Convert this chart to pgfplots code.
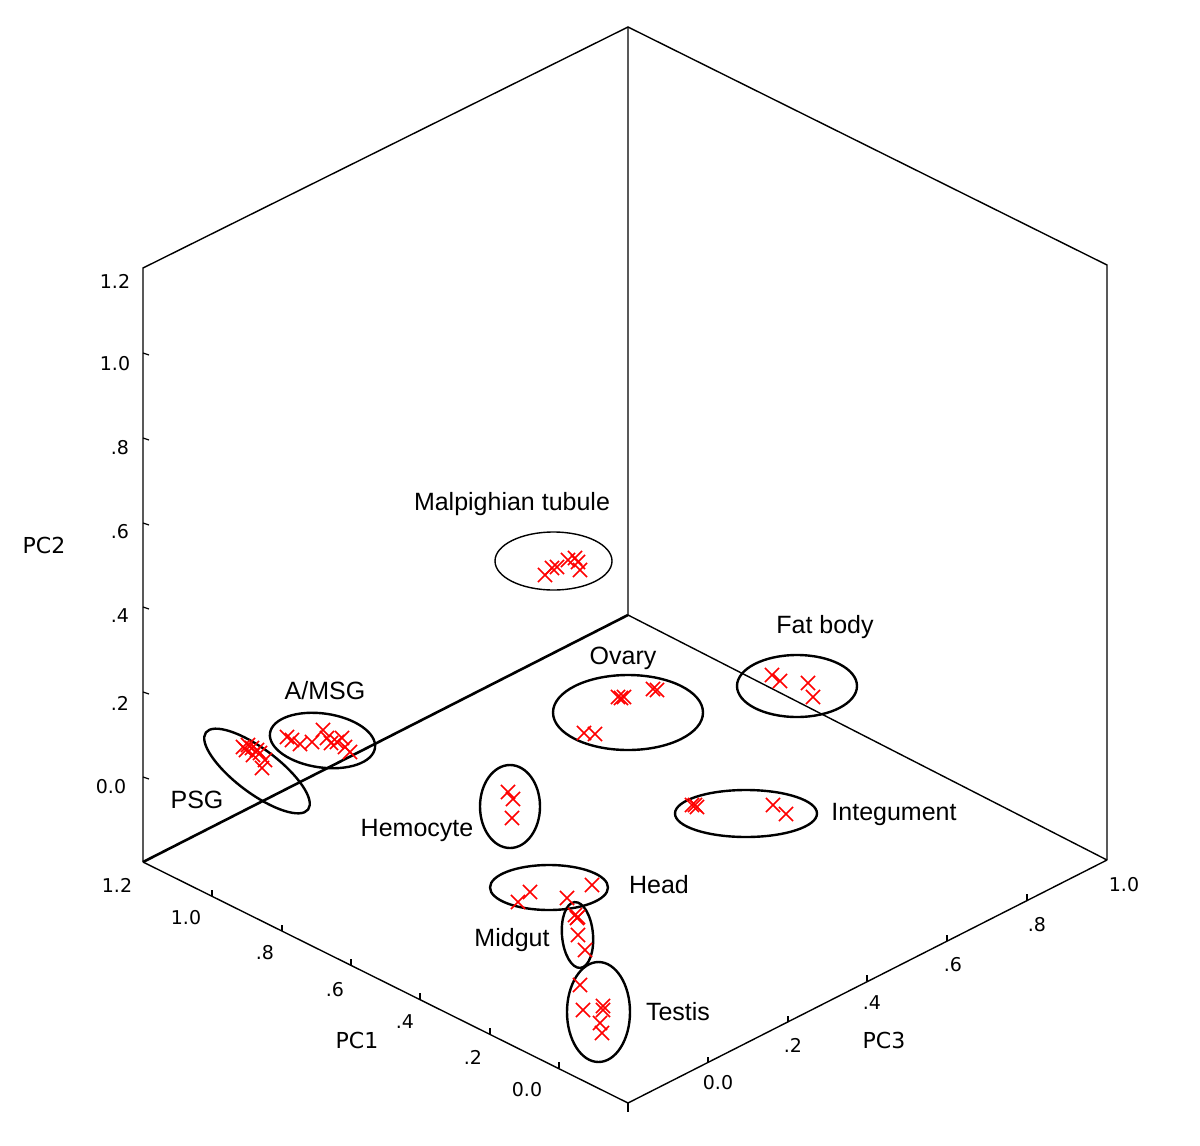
\documentclass[border=0pt]{standalone}
\usepackage{pgfplots}
\pgfplotsset{compat=1.18}
\usepackage{fontspec}
\setmainfont{Liberation Sans}
\newfontfamily\tickfont{DejaVu Sans}

% one axis unit = one pixel of the 1200x1146 reference
\newcommand{\grp}[1]{\fontsize{12.5}{15}\selectfont #1}
\newcommand{\tck}[1]{\tickfont\fontsize{9.5}{11}\selectfont #1}
\newcommand{\pcname}[1]{\tickfont\fontsize{11}{13}\selectfont #1}
\tikzset{ell/.style={black, line width=1.2pt}}
\pgfplotsset{pcx/.style={only marks, mark=x, mark size=5pt, color=red,
                mark options={line width=0.8pt}}}

\begin{document}
\begin{tikzpicture}
\begin{axis}[
    scale only axis,
    width=600pt, height=573pt,
    xmin=0, xmax=1200,
    ymin=0, ymax=1146,
    y dir=reverse,
    hide axis,
    clip=false,
]
\path (rel axis cs:0,0) rectangle (rel axis cs:1,1);

% box
\addplot[black, line width=0.7pt] coordinates {(143,862) (143,268) (628,27) (1107,265) (1107,860)};
\addplot[black, line width=0.7pt] coordinates {(628,27) (628,615) (1107,860)};
\addplot[black, line width=1.3pt] coordinates {(143,862) (628,615)};
\addplot[black, line width=0.7pt] coordinates {(143,862) (628,1103) (1107,860)};
\addplot[black, line width=0.7pt] coordinates {(628,1103) (628,1112)};

% PC2 ticks
\addplot[black, line width=0.6pt] coordinates {(143,353) (149,355)};
\addplot[black, line width=0.6pt] coordinates {(143,438) (149,440)};
\addplot[black, line width=0.6pt] coordinates {(143,523) (149,525)};
\addplot[black, line width=0.6pt] coordinates {(143,607) (149,609)};
\addplot[black, line width=0.6pt] coordinates {(143,692) (149,694)};
\addplot[black, line width=0.6pt] coordinates {(143,777) (149,779)};
% PC1 ticks
\addplot[black, line width=0.6pt] coordinates {(212,896) (212,890)};
\addplot[black, line width=0.6pt] coordinates {(282,931) (282,925)};
\addplot[black, line width=0.6pt] coordinates {(351,965) (351,959)};
\addplot[black, line width=0.6pt] coordinates {(420,999) (420,993)};
\addplot[black, line width=0.6pt] coordinates {(490,1034) (490,1028)};
\addplot[black, line width=0.6pt] coordinates {(559,1068) (559,1062)};
% PC3 ticks
\addplot[black, line width=0.6pt] coordinates {(708,1063) (708,1057)};
\addplot[black, line width=0.6pt] coordinates {(788,1022) (788,1016)};
\addplot[black, line width=0.6pt] coordinates {(867,981) (867,975)};
\addplot[black, line width=0.6pt] coordinates {(947,941) (947,935)};
\addplot[black, line width=0.6pt] coordinates {(1027,900) (1027,894)};

% tick labels
\node at (axis cs:115,281) {\tck{1.2}};
\node at (axis cs:115,364) {\tck{1.0}};
\node at (axis cs:120,448) {\tck{.8}};
\node at (axis cs:120,532) {\tck{.6}};
\node at (axis cs:120,616) {\tck{.4}};
\node at (axis cs:120,703) {\tck{.2}};
\node at (axis cs:111,787) {\tck{0.0}};
\node at (axis cs:44,545) {\pcname{PC2}};

\node at (axis cs:117,885) {\tck{1.2}};
\node at (axis cs:186,918) {\tck{1.0}};
\node at (axis cs:265,953) {\tck{.8}};
\node at (axis cs:335,990) {\tck{.6}};
\node at (axis cs:405,1022) {\tck{.4}};
\node at (axis cs:473,1057) {\tck{.2}};
\node at (axis cs:527,1090) {\tck{0.0}};
\node at (axis cs:357,1040) {\pcname{PC1}};

\node at (axis cs:718,1083) {\tck{0.0}};
\node at (axis cs:793,1045) {\tck{.2}};
\node at (axis cs:872,1003) {\tck{.4}};
\node at (axis cs:953,965) {\tck{.6}};
\node at (axis cs:1037,925) {\tck{.8}};
\node at (axis cs:1124,885) {\tck{1.0}};
\node at (axis cs:884,1040) {\pcname{PC3}};

% samples
\addplot[pcx] coordinates {(243,747) (248,745) (252,748) (257,750) (260,753) (265,760) (262,768) (253,755) (246,750)}; % PSG
\addplot[pcx] coordinates {(287,737) (292,740) (300,744) (312,742) (323,730) (327,738) (331,743) (337,742) (342,738) (345,747) (350,752)}; % A/MSG
\addplot[pcx] coordinates {(545,575) (552,568) (557,567) (568,560) (575,558) (578,562) (580,570)}; % Malpighian tubule
\addplot[pcx] coordinates {(618,697) (621,698) (624,697) (653,689) (657,690) (584,733) (595,734)}; % Ovary
\addplot[pcx] coordinates {(772,675) (780,681) (808,683) (813,697)}; % Fat body
\addplot[pcx] coordinates {(692,805) (695,805) (697,807) (773,805) (786,814)}; % Integument
\addplot[pcx] coordinates {(508,792) (513,799) (512,818)}; % Hemocyte
\addplot[pcx] coordinates {(518,902) (530,892) (567,898) (592,885)}; % Head
\addplot[pcx] coordinates {(575,915) (577,918) (578,917) (578,935) (585,950)}; % Midgut
\addplot[pcx] coordinates {(580,985) (583,1010) (603,1006) (603,1010) (600,1023) (602,1033)}; % Testis

% group outlines
\draw[ell, shift={(axis cs:257,771)}, rotate=-37] (0,0) ellipse [x radius=32pt, y radius=11pt];
\draw[ell, shift={(axis cs:322.5,740.5)}, rotate=-8] (0,0) ellipse [x radius=26.5pt, y radius=13.5pt];
\draw[black, line width=0.7pt] (axis cs:553.5,561) ellipse [x radius=29.25pt, y radius=14.5pt];
\draw[ell] (axis cs:628,712.5) ellipse [x radius=37.5pt, y radius=18.75pt];
\draw[ell] (axis cs:797,686) ellipse [x radius=30pt, y radius=15.5pt];
\draw[ell] (axis cs:746,813.5) ellipse [x radius=35.5pt, y radius=11.75pt];
\draw[ell] (axis cs:510,806.5) ellipse [x radius=15pt, y radius=20.75pt];
\draw[ell] (axis cs:549,887.5) ellipse [x radius=29.5pt, y radius=11.25pt];
\draw[ell, shift={(axis cs:577.5,935)}, rotate=5] (0,0) ellipse [x radius=7.75pt, y radius=16.5pt];
\draw[ell] (axis cs:598.5,1012) ellipse [x radius=15.75pt, y radius=25pt];

% group names
\node at (axis cs:512,504) {\grp{Malpighian tubule}};
\node at (axis cs:825,627) {\grp{Fat body}};
\node at (axis cs:623,658) {\grp{Ovary}};
\node at (axis cs:325,691) {\grp{A/MSG}};
\node at (axis cs:197,800) {\grp{PSG}};
\node at (axis cs:417,830) {\grp{Hemocyte}};
\node at (axis cs:894,814) {\grp{Integument}};
\node at (axis cs:659,885) {\grp{Head}};
\node at (axis cs:512,940) {\grp{Midgut}};
\node at (axis cs:678,1012) {\grp{Testis}};
\end{axis}
\end{tikzpicture}
\end{document}
